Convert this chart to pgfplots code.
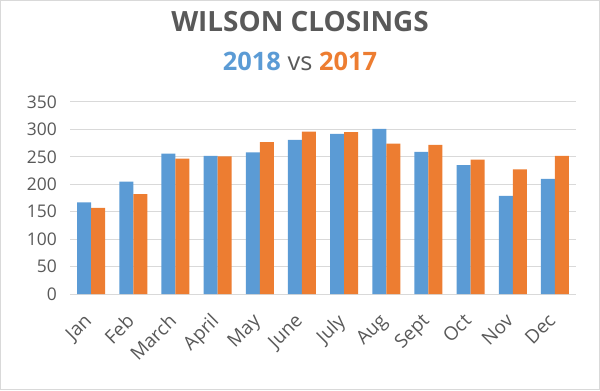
\documentclass[border=0pt]{standalone}
\usepackage{fontspec}
\setmainfont{Open Sans}
\usepackage{pgfplots}
\pgfplotsset{compat=1.18}
\definecolor{cblue}{HTML}{5B9BD5}
\definecolor{corange}{HTML}{ED7D31}
\definecolor{ctext}{HTML}{595959}
\definecolor{cgrid}{HTML}{D9D9D9}
\begin{document}
\begin{tikzpicture}[x=1bp,y=1bp]
\path[use as bounding box] (0,0) rectangle (600,390);
\draw[cgrid, line width=1bp] (0.5,0.5) rectangle (599.5,389.5);
\node[anchor=base, text=ctext, font=\fontsize{28}{28}\selectfont\bfseries] at (300,358.3) {WILSON CLOSINGS};
\node[anchor=base, text=ctext, font=\fontsize{25.5}{25.5}\selectfont] at (300,320) {\textbf{\textcolor{cblue}{2018}} vs \textbf{\textcolor{corange}{2017}}};
\begin{axis}[
  at={(70bp,96bp)}, anchor=south west,
  width=506bp, height=192bp, scale only axis,
  xmin=-0.5, xmax=11.5, ymin=0, ymax=350,
  ytick={0,50,...,350},
  xtick={0,...,11},
  xticklabels={Jan,Feb,March,April,May,June,July,Aug,Sept,Oct,Nov,Dec},
  ybar=0pt, bar width=14bp,
  axis line style={draw=none},
  axis x line*=bottom,
  ymajorgrids, grid style={cgrid, line width=1bp},
  major tick length=0pt,
  /pgf/number format/assume math mode=true,
  tick label style={text=ctext, font=\fontsize{17.5}{17.5}\selectfont},
  yticklabel style={anchor=east, inner sep=0pt, xshift=-13bp},
  xticklabel style={xshift=-8bp, yshift=-18bp, rotate=45, anchor=north east, inner sep=0pt, font=\fontsize{19}{19}\selectfont},
  clip=false,
]
\addplot[fill=cblue, draw=none] coordinates {(0,167) (1,205) (2,256) (3,252) (4,258) (5,281) (6,292) (7,301) (8,259) (9,235) (10,179) (11,210)};
\addplot[fill=corange, draw=none] coordinates {(0,157) (1,182) (2,247) (3,251) (4,277) (5,296) (6,295) (7,274) (8,272) (9,245) (10,227) (11,252)};
\end{axis}
\end{tikzpicture}
\end{document}
